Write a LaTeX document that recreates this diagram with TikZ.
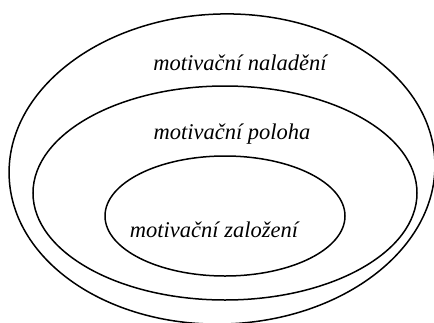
\documentclass[tikz,border=0pt]{standalone}
\usepackage{fontspec}
\setmainfont{Liberation Serif}
\tikzset{
    ring/.style={draw, line width=1.5pt},
    label/.style={font=\fontsize{22.5}{26}\selectfont\itshape, inner sep=0pt}
}
\begin{document}
\begin{tikzpicture}[x=1pt, y=-1pt]
    \useasboundingbox (0, 0) rectangle (434, 322);
    % the three nested layers
    \draw[ring, rotate around={2:(222, 169)}] (222, 169) ellipse (213 and 155);
    \draw[ring] (225, 193) ellipse (192 and 107);
    \draw[ring] (225, 216) ellipse (120 and 60);
    \node[label] (naladeni) at (240, 63) {motivační naladění};
    \node[label] (poloha) at (232, 134) {motivační poloha};
    \node[label] (zalozeni) at (214, 230) {motivační založení};
\end{tikzpicture}
\end{document}
